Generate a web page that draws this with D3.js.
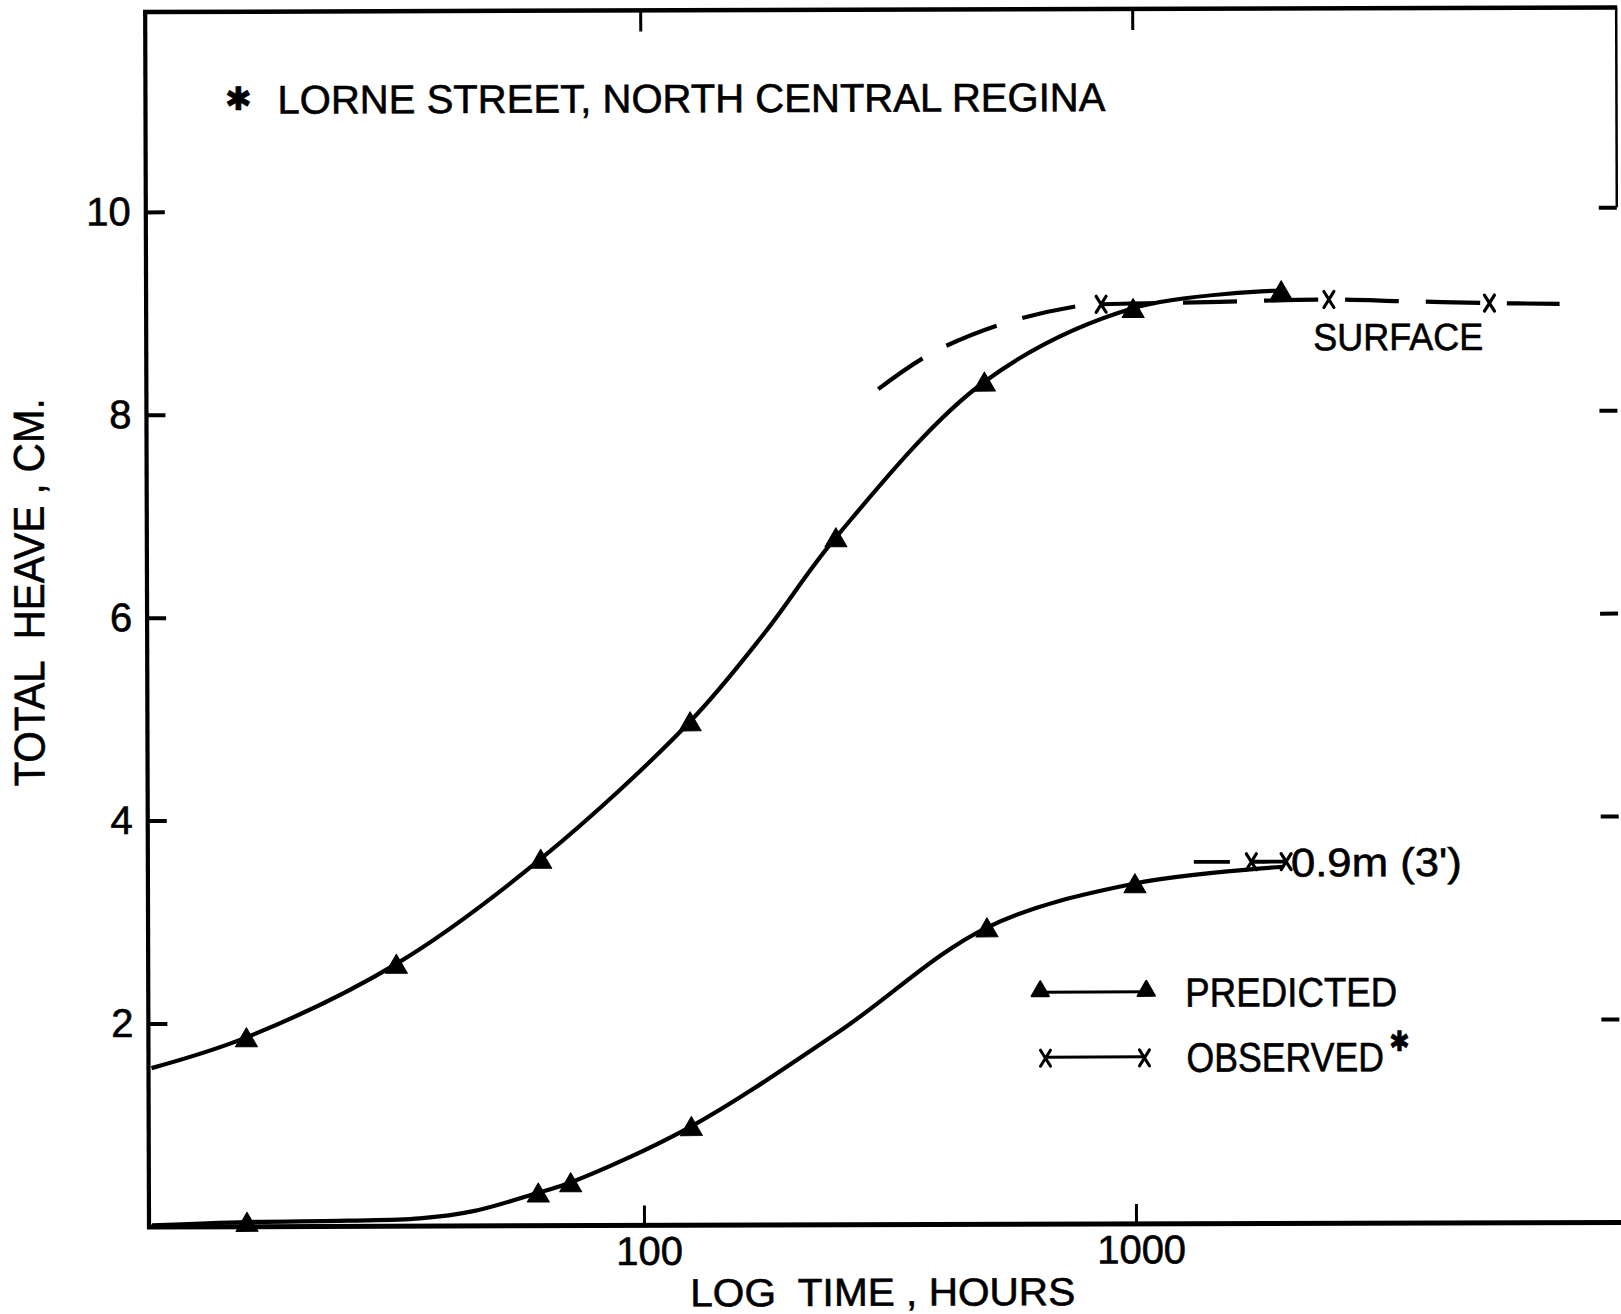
<!DOCTYPE html>
<html><head><meta charset="utf-8">
<script src="https://cdn.jsdelivr.net/npm/d3@7"></script>
<style>
html,body{margin:0;padding:0;background:#fff;}
svg{display:block;}
text{font-family:"Liberation Sans",Arial,sans-serif;fill:#000;stroke:#000;stroke-width:0.6px;white-space:pre;}
</style>
</head><body>
<svg id="chart" width="1621" height="1314"></svg>
<script>
// ---- data ----
const xTickValues = [100, 1000];
const xTickLabels = ["100", "1000"];
const yTickValues = [2, 4, 6, 8, 10];
const yTickLabels = ["2", "4", "6", "8", "10"];

// predicted, surface (hours, cm)
const predSurfaceTime  = [10, 15.6, 31.5, 62, 125, 178, 248, 498, 1000, 2000];
const predSurfaceHeave = [1.56, 1.86, 2.58, 3.61, 4.96, 5.84, 6.77, 8.30, 9.02, 9.19];
const predSurfaceMarked = [0, 1, 1, 1, 1, 0, 1, 1, 1, 1];

// predicted, 0.9 m depth
const pred09Time  = [10, 15.6, 25, 35, 45, 61, 71, 125, 250, 500, 1000, 2000];
const pred09Heave = [0.01, 0.04, 0.05, 0.07, 0.14, 0.32, 0.42, 0.97, 1.90, 2.92, 3.35, 3.51];
const pred09Marked = [0, 1, 0, 0, 0, 1, 1, 1, 0, 1, 1, 0];

// observed, surface
const obsSurfaceTime  = [303, 388, 550, 790, 861, 1500, 2500, 3600, 5300, 7360];
const obsSurfaceHeave = [8.23, 8.58, 8.88, 9.05, 9.06, 9.08, 9.10, 9.08, 9.06, 9.05];
const obsSurfaceMarked = [0, 0, 0, 0, 1, 0, 1, 0, 1, 0];

// observed, 0.9 m depth
const obs09Time  = [1318, 1725, 2030];
const obs09Heave = [3.56, 3.56, 3.56];
const obs09Marked = [0, 1, 1];

const titleText = "LORNE STREET, NORTH CENTRAL REGINA";
const yLabelText = "TOTAL  HEAVE , CM.";
const xLabelText = "LOG  TIME , HOURS";

// ---- layout ----
const frame = {left: 149, top: 12, right: 1620, bottom: 1227};
const x = d3.scaleLog().domain([10, 10000]).range([152, 1628]);
const y = d3.scaleLinear().domain([0, 10]).range([1226.4, 211.9]);

const svg = d3.select("#chart");
const g = svg.append("g").attr("transform", "rotate(-0.18," + frame.left + "," + frame.bottom + ")");

// frame
g.append("line").attr("x1", frame.left).attr("y1", frame.top - 2).attr("x2", frame.left).attr("y2", frame.bottom + 2)
  .attr("stroke", "#000").attr("stroke-width", 4.2);
g.append("line").attr("x1", frame.left - 2).attr("y1", frame.bottom).attr("x2", 1625).attr("y2", frame.bottom)
  .attr("stroke", "#000").attr("stroke-width", 5);
g.append("line").attr("x1", frame.left - 2).attr("y1", frame.top).attr("x2", frame.right + 1).attr("y2", frame.top)
  .attr("stroke", "#000").attr("stroke-width", 4.5);
g.append("line").attr("x1", frame.right).attr("y1", frame.top).attr("x2", frame.right).attr("y2", y(10))
  .attr("stroke", "#000").attr("stroke-width", 2.5);

function styleAxis(sel, fs) {
  sel.select(".domain").remove();
  sel.selectAll(".tick line").attr("stroke", "#000").attr("stroke-width", 4);
  sel.selectAll(".tick text").attr("font-family", "\"Liberation Sans\", Arial, sans-serif")
     .attr("font-size", fs).attr("fill", "#000");
  sel.attr("font-family", null).attr("font-size", null);
}

// left axis (ticks inward)
const gl = g.append("g").attr("transform", "translate(" + frame.left + ",0)")
  .call(d3.axisLeft(y).tickValues(yTickValues).tickFormat((d, i) => yTickLabels[i]).tickSize(-19).tickPadding(15));
styleAxis(gl, 40);

// right axis ticks
const gr = g.append("g").attr("transform", "translate(" + frame.right + ",0)")
  .call(d3.axisRight(y).tickValues(yTickValues).tickFormat("").tickSize(-18));
styleAxis(gr, 10);

// bottom axis
const gb = g.append("g").attr("transform", "translate(0," + frame.bottom + ")")
  .call(d3.axisBottom(x).tickValues(xTickValues).tickFormat((d, i) => xTickLabels[i]).tickSize(-20).tickPadding(11));
styleAxis(gb, 40);
gb.selectAll(".tick line").attr("stroke-width", 3);
gb.selectAll(".tick text").attr("dx", 5);

// top axis ticks
const gt = g.append("g").attr("transform", "translate(0," + frame.top + ")")
  .call(d3.axisTop(x).tickValues(xTickValues).tickFormat("").tickSize(-21));
styleAxis(gt, 10);
gt.selectAll(".tick line").attr("stroke-width", 3);

// ---- series ----
const zip = (t, v, m) => t.map((d, i) => ({t: d, v: v[i], m: m[i]}));
const predSurface = zip(predSurfaceTime, predSurfaceHeave, predSurfaceMarked);
const pred09 = zip(pred09Time, pred09Heave, pred09Marked);
const obsSurface = zip(obsSurfaceTime, obsSurfaceHeave, obsSurfaceMarked);
const obs09 = zip(obs09Time, obs09Heave, obs09Marked);

const line = d3.line().x(d => x(d.t)).y(d => y(d.v)).curve(d3.curveCatmullRom.alpha(0.5));

g.append("path").attr("d", line(obsSurface)).attr("fill", "none").attr("stroke", "#000")
  .attr("stroke-width", 4.2).attr("stroke-dasharray", "54,27");
g.append("path").attr("d", line(obs09)).attr("fill", "none").attr("stroke", "#000")
  .attr("stroke-width", 3.8).attr("stroke-dasharray", "36,22");
g.append("path").attr("d", line(predSurface)).attr("fill", "none").attr("stroke", "#000").attr("stroke-width", 4.2);
g.append("path").attr("d", line(pred09)).attr("fill", "none").attr("stroke", "#000").attr("stroke-width", 4.2);

// triangle markers: bounding box centred on the point
const tri = d3.symbol(d3.symbolTriangle, 210);
[predSurface, pred09].forEach(s => {
  g.selectAll(null).data(s.filter(d => d.m)).enter().append("path")
    .attr("d", tri).attr("transform", d => "translate(" + x(d.t) + "," + (y(d.v) + 3) + ")")
    .attr("fill", "#000").attr("stroke", "#000").attr("stroke-width", 1).attr("stroke-linejoin", "round");
});

const crossPath = "M-5,-8L5,8M5,-8L-5,8";
[obsSurface, obs09].forEach(s => {
  g.selectAll(null).data(s.filter(d => d.m)).enter().append("path")
    .attr("d", crossPath).attr("transform", d => "translate(" + x(d.t) + "," + y(d.v) + ")")
    .attr("fill", "none").attr("stroke", "#000").attr("stroke-width", 3.2).attr("stroke-linecap", "round");
});

// ---- labels ----
g.append("text").attr("x", 242).attr("y", 99).attr("text-anchor", "middle").attr("dominant-baseline", "central")
  .attr("font-family", "DejaVu Sans").attr("font-size", 32).text("\u2731");
g.append("text").attr("x", 281).attr("y", 114).attr("font-size", 40)
  .attr("textLength", 828).attr("lengthAdjust", "spacingAndGlyphs").text(titleText);

g.append("text").attr("transform", "translate(46,592) rotate(-90)").attr("text-anchor", "middle")
  .attr("font-size", 43).attr("textLength", 388).attr("lengthAdjust", "spacingAndGlyphs").text(yLabelText);

g.append("text").attr("x", 690).attr("y", 1308).attr("font-size", 39)
  .attr("textLength", 385).attr("lengthAdjust", "spacingAndGlyphs").text(xLabelText);

g.append("text").attr("x", 1316).attr("y", 354).attr("font-size", 38)
  .attr("textLength", 170).attr("lengthAdjust", "spacingAndGlyphs").text("SURFACE");

g.append("text").attr("x", 1292).attr("y", 880).attr("font-size", 40)
  .attr("textLength", 171).attr("lengthAdjust", "spacingAndGlyphs").text("0.9m (3')");

// legend
const legTri = d3.symbol(d3.symbolTriangle, 130);
g.append("line").attr("x1", 1041).attr("y1", 995).attr("x2", 1147).attr("y2", 995).attr("stroke", "#000").attr("stroke-width", 3);
[1041, 1147].forEach(px => g.append("path").attr("d", legTri).attr("transform", "translate(" + px + ",994)")
  .attr("fill", "#000").attr("stroke", "#000").attr("stroke-width", 2).attr("stroke-linejoin", "round"));
g.append("text").attr("x", 1186).attr("y", 1010).attr("font-size", 41)
  .attr("textLength", 212).attr("lengthAdjust", "spacingAndGlyphs").text("PREDICTED");

g.append("line").attr("x1", 1046).attr("y1", 1060).attr("x2", 1145).attr("y2", 1060).attr("stroke", "#000").attr("stroke-width", 3);
[1046, 1145].forEach(px => g.append("path").attr("d", crossPath).attr("transform", "translate(" + px + ",1061)")
  .attr("fill", "none").attr("stroke", "#000").attr("stroke-width", 3).attr("stroke-linecap", "round"));
const obsText = g.append("text").attr("transform", "translate(1187,1075) scale(0.87,1)").attr("font-size", 41);
obsText.append("tspan").text("OBSERVED");
obsText.append("tspan").attr("dx", 6).attr("dy", -20).attr("font-family", "DejaVu Sans").attr("font-size", 28).text("\u2731");
</script>
</body></html>
